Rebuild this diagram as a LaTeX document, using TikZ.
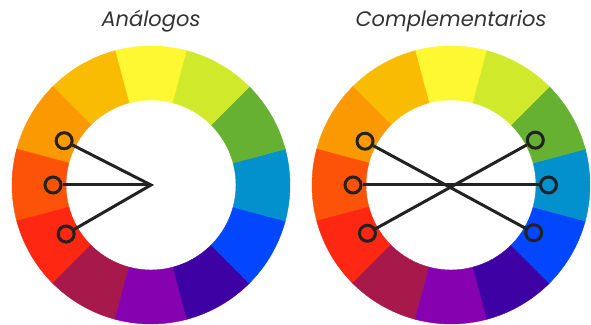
\documentclass[tikz,border=0pt]{standalone}
\usepackage{fontspec}
\setmainfont{Poppins}
\usepackage{tikz}
\usetikzlibrary{positioning, calc}

\definecolor{TitleGrey}{HTML}{333333}
\definecolor{RingDark}{HTML}{222222}
\definecolor{cwYellow}{HTML}{FEF833}
\definecolor{cwYellowOrange}{HTML}{FABC02}
\definecolor{cwOrange}{HTML}{FB9902}
\definecolor{cwRedOrange}{HTML}{FD5308}
\definecolor{cwRed}{HTML}{FE2712}
\definecolor{cwRedViolet}{HTML}{A7194B}
\definecolor{cwViolet}{HTML}{8601AF}
\definecolor{cwBlueViolet}{HTML}{3D01A4}
\definecolor{cwBlue}{HTML}{0247FE}
\definecolor{cwBlueGreen}{HTML}{0391CE}
\definecolor{cwGreen}{HTML}{66B032}
\definecolor{cwYellowGreen}{HTML}{D0EA2B}

% one colour wheel, twelve sectors, centred at the origin of the scope
\newcommand{\colorwheel}{%
  \foreach \a/\col in {90/cwYellow, 120/cwYellowOrange, 150/cwOrange,
      180/cwRedOrange, 210/cwRed, 240/cwRedViolet, 270/cwViolet,
      300/cwBlueViolet, 330/cwBlue, 360/cwBlueGreen, 30/cwGreen,
      60/cwYellowGreen}{%
    \filldraw[\col, line width=0.4pt]
      (\a-15:85) -- (\a-15:139)
      arc[start angle=\a-15, end angle=\a+15, radius=139]
      -- (\a+15:85)
      arc[start angle=\a+15, end angle=\a-15, radius=85] -- cycle;
  }%
}

\tikzset{
  title/.style={anchor=base, text=TitleGrey,
    font=\fontsize{21}{25}\selectfont\itshape},
  pick/.style={circle, draw=RingDark, line width=3pt,
    minimum size=16pt, inner sep=0pt},
  link/.style={draw=RingDark, line width=3pt}
}

\begin{document}
\begin{tikzpicture}[x=1pt, y=1pt]
  \useasboundingbox (0,0) rectangle (591,324);
  % Titles
  \node[title] (tana) at (151,297) {Análogos};
  \node[title] (tcomp) at (451,297) {Complementarios};
  % Left wheel: analogous colours
  \begin{scope}[shift={(151,139)}]
    \colorwheel
    \coordinate (lc) at (0,0);
    \node[pick] (la) at (153:97.5) {};
    \node[pick] (lb) at (180:98) {};
    \node[pick] (lr) at (210:98) {};
    \draw[link] (la) -- (lc) -- (lr);
    \draw[link] (lb) -- (lc);
  \end{scope}
  % Right wheel: complementary colours
  \begin{scope}[shift={(451,139)}]
    \colorwheel
    \node[pick] (ro) at (153:96.5) {};
    \node[pick] (rro) at (180:98) {};
    \node[pick] (rr) at (210:96.5) {};
    \node[pick] (rg) at (28:95.5) {};
    \node[pick] (rbg) at (0:97.5) {};
    \node[pick] (rb) at (-30:95.5) {};
    \draw[link] (ro) -- (rb);
    \draw[link] (rro) -- (rbg);
    \draw[link] (rr) -- (rg);
  \end{scope}
\end{tikzpicture}
\end{document}
